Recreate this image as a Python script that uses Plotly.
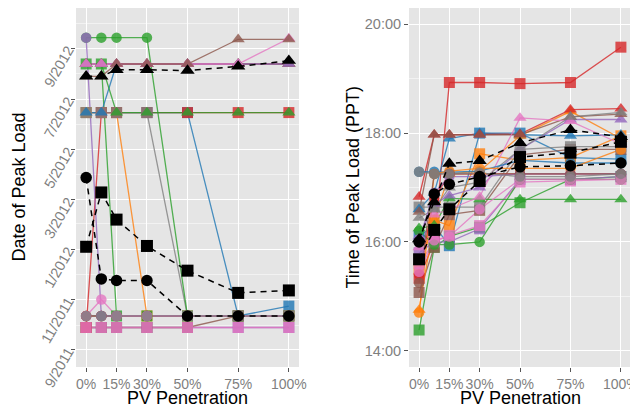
import plotly.graph_objects as go

# ---------------- data ----------------
pv_penetration = [0, 7.5, 15, 30, 50, 75, 100]
pv_tick_values = [0, 15, 30, 50, 75, 100]
pv_tick_labels = ["0%", "15%", "30%", "50%", "75%", "100%"]

feeder_colors = {
    "blue": "#1f77b4", "orange": "#ff7f0e", "green": "#2ca02c", "red": "#d62728",
    "purple": "#9467bd", "brown": "#8c564b", "pink": "#e377c2", "grey": "#7f7f7f",
}

date_tick_values = ["2011-09-01", "2011-11-01", "2012-01-01", "2012-03-01",
                    "2012-05-01", "2012-07-01", "2012-09-01"]
date_tick_labels = ["9/2011", "11/2011", "1/2012", "3/2012", "5/2012", "7/2012", "9/2012"]
date_minor_values = ["2011-10-01", "2011-12-01", "2012-02-01", "2012-04-01",
                     "2012-06-01", "2012-08-01", "2012-10-01"]

time_tick_values = [14, 16, 18, 20]
time_tick_labels = ["14:00", "16:00", "18:00", "20:00"]
time_minor_values = [15, 17, 19]

# Date of peak load (left panel)
date_circle = {
    "blue":   ["2011-10-12"] * 7,
    "orange": ["2011-10-12"] * 7,
    "red":    ["2011-10-12"] * 7,
    "brown":  ["2011-10-12"] * 7,
    "green":  ["2012-09-14", "2012-09-14", "2012-09-14", "2012-09-14", "2011-10-12", "2011-10-12", "2011-10-12"],
    "purple": ["2012-09-14", "2011-10-12", "2011-10-12", "2011-10-12", "2011-10-12", "2011-10-12", "2011-10-12"],
    "pink":   ["2011-10-12", "2011-11-01", "2011-10-12", "2011-10-12", "2011-10-12", "2011-10-12", "2011-10-12"],
    "grey":   ["2011-10-12"] * 7,
}
date_triangle = {
    "blue":   ["2012-06-15", "2012-06-15", "2012-08-13", "2012-08-13", "2012-08-13", "2012-08-13", "2012-08-13"],
    "orange": ["2012-08-13"] * 7,
    "green":  ["2012-08-13", "2012-08-13", "2012-06-15", "2012-06-15", "2012-06-15", "2012-06-15", "2012-06-15"],
    "red":    ["2012-08-13"] * 7,
    "grey":   ["2012-08-13"] * 7,
    "purple": ["2012-08-13"] * 7,
    "pink":   ["2012-08-13", "2012-08-13", "2012-08-13", "2012-08-13", "2012-08-13", "2012-08-13", "2012-09-13"],
    "brown":  ["2012-07-29", "2012-07-29", "2012-08-13", "2012-08-13", "2012-08-13", "2012-09-12", "2012-09-12"],
}
date_square = {
    "blue":   ["2012-06-15", "2012-06-15", "2012-06-15", "2012-06-15", "2012-06-15", "2011-10-12", "2011-10-24"],
    "orange": ["2012-06-15", "2012-06-15", "2012-06-15", "2011-10-12", "2011-10-12", "2011-10-12", "2011-10-12"],
    "green":  ["2012-08-13", "2012-08-13", "2011-10-12", "2011-10-12", "2011-10-12", "2011-10-12", "2011-10-12"],
    "purple": ["2011-09-28"] * 7,
    "brown":  ["2011-09-28", "2011-09-28", "2011-09-28", "2011-09-28", "2011-09-28", "2011-10-12", "2011-10-12"],
    "red":    ["2011-09-28", "2012-06-15", "2012-06-15", "2012-06-15", "2012-06-15", "2012-06-15", "2012-06-15"],
    "grey":   ["2012-06-15", "2012-06-15", "2012-06-15", "2012-06-15", "2011-10-12", "2011-10-12", "2011-10-12"],
    "pink":   ["2011-09-28"] * 7,
}
date_mean_circle = ["2012-03-28", "2011-11-26", "2011-11-24", "2011-11-24", "2011-10-12", "2011-10-12", "2011-10-12"]
date_mean_triangle = ["2012-07-29", "2012-07-29", "2012-08-06", "2012-08-06", "2012-08-05", "2012-08-10", "2012-08-17"]
date_mean_square = ["2012-01-04", "2012-03-10", "2012-02-06", "2012-01-05", "2011-12-06", "2011-11-09", "2011-11-12"]

# Time of peak load in hours (right panel)
time_circle = {
    "blue":   [17.29, 17.29, 17.28, 17.30, 17.50, 17.45, 17.45],
    "orange": [14.70, 17.25, 17.30, 17.35, 17.35, 17.35, 17.70],
    "green":  [16.20, 15.95, 15.95, 16.00, 17.15, 17.15, 17.15],
    "red":    [15.40, 16.80, 17.25, 17.25, 17.25, 17.25, 17.25],
    "purple": [16.05, 16.90, 17.20, 17.20, 17.25, 17.25, 17.25],
    "brown":  [15.25, 17.25, 17.25, 17.25, 17.25, 17.25, 17.25],
    "pink":   [15.45, 16.03, 16.10, 16.60, 17.15, 17.15, 17.15],
    "grey":   [17.29, 17.25, 17.25, 17.27, 17.20, 17.20, 17.25],
}
time_triangle = {
    "blue":   [16.60, 16.90, 17.90, 18.00, 17.97, 17.95, 17.97],
    "orange": [14.75, 16.40, 17.25, 17.30, 17.95, 18.40, 17.90],
    "green":  [16.25, 16.30, 16.80, 16.78, 16.78, 16.78, 16.78],
    "red":    [16.83, 17.97, 17.97, 17.97, 17.98, 18.43, 18.45],
    "purple": [16.10, 16.70, 16.85, 17.00, 17.70, 18.25, 18.25],
    "brown":  [16.55, 17.97, 17.97, 17.97, 17.97, 18.30, 18.35],
    "pink":   [15.90, 16.50, 16.60, 16.83, 18.28, 18.22, 17.80],
    "grey":   [16.44, 16.60, 17.00, 17.10, 17.70, 18.30, 18.38],
}
time_square = {
    "blue":   [16.10, 16.30, 15.93, 18.00, 18.00, 17.55, 17.52],
    "orange": [15.50, 16.40, 16.30, 17.62, 17.50, 17.55, 17.95],
    "green":  [14.38, 15.90, 16.10, 16.27, 16.72, 17.15, 17.20],
    "red":    [15.33, 16.00, 18.93, 18.93, 18.91, 18.93, 19.58],
    "purple": [15.80, 16.00, 16.00, 16.24, 17.15, 17.15, 17.20],
    "brown":  [15.07, 15.90, 16.50, 16.58, 17.60, 17.70, 17.70],
    "pink":   [15.60, 16.00, 16.12, 16.30, 17.10, 17.12, 17.15],
    "grey":   [16.64, 16.64, 16.64, 16.64, 17.70, 17.75, 17.75],
}
time_mean_circle = [16.00, 16.88, 17.06, 17.20, 17.38, 17.40, 17.45]
time_mean_triangle = [16.05, 16.73, 17.44, 17.49, 17.82, 18.06, 17.93]
time_mean_square = [15.68, 16.22, 16.60, 17.12, 17.56, 17.64, 17.84]

# ---------------- figure ----------------
def rgba(hex_color, a):
    h = hex_color.lstrip("#")
    r, g, b = int(h[0:2], 16), int(h[2:4], 16), int(h[4:6], 16)
    return f"rgba({r},{g},{b},{a})"

symbols = {"circle": ("circle", 10.5), "triangle": ("triangle-up", 11.5), "square": ("square", 11)}
ALPHA = 0.8

panels = [
    ("x", "y", [("square", date_square), ("triangle", date_triangle), ("circle", date_circle)],
     [("circle", date_mean_circle), ("triangle", date_mean_triangle), ("square", date_mean_square)]),
    ("x2", "y2", [("square", time_square), ("triangle", time_triangle), ("circle", time_circle)],
     [("circle", time_mean_circle), ("triangle", time_mean_triangle), ("square", time_mean_square)]),
]

fig = go.Figure()
for xa, ya, groups, means in panels:
    for shape, series in groups:
        for name, vals in series.items():
            fig.add_trace(go.Scatter(x=pv_penetration, y=vals, mode="lines", xaxis=xa, yaxis=ya,
                                     line=dict(color=rgba(feeder_colors[name], ALPHA), width=1.3),
                                     showlegend=False, hoverinfo="skip"))
    for shape, series in groups:
        sym, size = symbols[shape]
        for name, vals in series.items():
            fig.add_trace(go.Scatter(x=pv_penetration, y=vals, mode="markers", xaxis=xa, yaxis=ya,
                                     marker=dict(symbol=sym, size=size, color=rgba(feeder_colors[name], ALPHA),
                                                 line=dict(width=0)),
                                     name=f"{name} {shape}", showlegend=False))
    for shape, vals in means:
        sym, size = symbols[shape]
        fig.add_trace(go.Scatter(x=pv_penetration, y=vals, mode="lines+markers", xaxis=xa, yaxis=ya,
                                 line=dict(color="black", width=1.5, dash="6px,5px"),
                                 marker=dict(symbol=sym, size=size + 1, color="black", line=dict(width=0)),
                                 name=f"mean {shape}", showlegend=False))

tick_font = dict(family="Liberation Sans, Arial, sans-serif", size=14.5, color="#7F7F7F")
xtick_font = dict(family="Liberation Sans, Arial, sans-serif", size=14, color="#7F7F7F")
title_font = dict(family="Liberation Sans, Arial, sans-serif", size=18, color="black")

# page body has an 8px margin: figure is 630x400 placed at (8, 8)
W, H = 630, 400
OFF = 8

common_x = dict(range=[-5, 105], tickmode="array", tickvals=pv_tick_values, ticktext=pv_tick_labels,
                tickangle=0, showgrid=True, gridcolor="white", gridwidth=1.3, zeroline=False, showline=False,
                ticks="outside", ticklen=4, tickwidth=1, tickcolor="#555555", tickfont=xtick_font,
                ticklabeloverflow="allow", automargin=False, fixedrange=True)

fig.update_layout(
    width=W, height=H,
    paper_bgcolor="white", plot_bgcolor="#E5E5E5",
    margin=dict(l=0, r=0, t=0, b=41),
    showlegend=False,
    xaxis=dict(domain=[(76 - OFF) / W, (299 - OFF) / W], anchor="y", **common_x),
    xaxis2=dict(domain=[(409 - OFF) / W, (631 - OFF) / W], anchor="y2", **common_x),
    yaxis=dict(type="date", range=["2011-08-11", "2012-10-20"], anchor="x",
               tickmode="array", tickvals=date_tick_values, ticktext=date_tick_labels,
               tickangle=-60, showgrid=True, gridcolor="white", gridwidth=1.3, zeroline=False,
               ticks="outside", ticklen=4, tickcolor="#555555", tickfont=tick_font, automargin=False,
               minor=dict(tickmode="array", tickvals=date_minor_values, showgrid=True,
                          gridcolor="#F2F2F2", gridwidth=0.7, ticks="")),
    yaxis2=dict(range=[13.7, 20.3], anchor="x2",
                tickmode="array", tickvals=time_tick_values, ticktext=time_tick_labels,
                showgrid=True, gridcolor="white", gridwidth=1.3, zeroline=False,
                ticks="outside", ticklen=4, tickcolor="#555555", tickfont=tick_font, automargin=False,
                minor=dict(tickmode="array", tickvals=time_minor_values, showgrid=True,
                           gridcolor="#F2F2F2", gridwidth=0.7, ticks="")),
    annotations=[
        dict(text="PV Penetration", x=(187.5 - OFF) / W, y=-31 / 359, xref="paper", yref="paper",
             xanchor="center", yanchor="middle", showarrow=False, font=title_font),
        dict(text="PV Penetration", x=(520 - OFF) / W, y=-31 / 359, xref="paper", yref="paper",
             xanchor="center", yanchor="middle", showarrow=False, font=title_font),
        dict(text="Date of Peak Load", x=(18 - OFF) / W, y=0.5, xref="paper", yref="paper",
             xanchor="center", yanchor="middle", textangle=-90, showarrow=False, font=title_font),
        dict(text="Time of Peak Load (PPT)", x=(352 - OFF) / W, y=0.5, xref="paper", yref="paper",
             xanchor="center", yanchor="middle", textangle=-90, showarrow=False, font=title_font),
    ],
)

fig.write_html("out.html")
